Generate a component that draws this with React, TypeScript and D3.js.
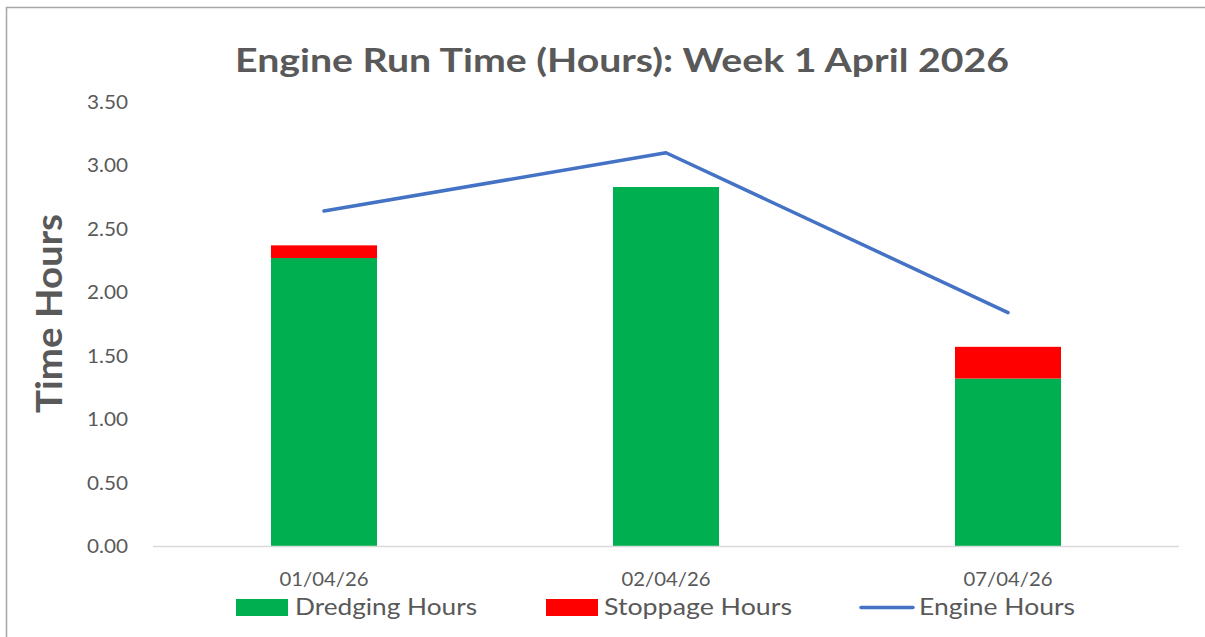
import * as d3 from "d3";
import React from "react";

const dates = ["01/04/26", "02/04/26", "07/04/26"];
const dredgingHours = [2.27, 2.83, 1.32];
const stoppageHours = [0.1, 0, 0.25];
const engineHours = [2.64, 3.1, 1.84];
const yTicks = [0, 0.5, 1, 1.5, 2, 2.5, 3, 3.5];

const W = 1205;
const H = 637;
const FONT = "Lato, 'Open Sans', sans-serif";
const TEXT = "#595959";

export default function App() {
  const margin = { top: 102, right: 26, bottom: 91, left: 153 };

  const x = d3
    .scaleBand()
    .domain(dates)
    .range([margin.left, W - margin.right])
    .paddingInner(0.69)
    .paddingOuter(0.345);

  const y = d3
    .scaleLinear()
    .domain([0, 3.5])
    .range([H - margin.bottom, margin.top]);

  const center = (d) => x(d) + x.bandwidth() / 2;

  const line = d3
    .line()
    .x((d, i) => center(dates[i]))
    .y((d) => y(d));

  const stacked = d3
    .stack()
    .keys(["dredging", "stoppage"])(
      dates.map((d, i) => ({ date: d, dredging: dredgingHours[i], stoppage: stoppageHours[i] }))
    );
  const colors = { dredging: "#00b050", stoppage: "#ff0000" };

  // the source text is a wide Calibri, so stretch Lato to the measured widths
  const fit = { lengthAdjust: "spacingAndGlyphs" };

  return (
    <div style={{ position: "absolute", left: 0, top: 0 }}>
      <svg width={W} height={H} style={{ display: "block", background: "#fff" }}>
        <rect x={6.5} y={7.5} width={W + 10} height={H + 10} fill="#fff" stroke="#a6a6a6" strokeWidth={1.5} />

        <text
          x={622}
          y={72}
          textAnchor="middle"
          fontFamily={FONT}
          fontWeight="bold"
          fontSize={33}
          fill={TEXT}
          textLength={774}
          {...fit}
        >
          Engine Run Time (Hours): Week 1 April 2026
        </text>

        <text
          transform={`translate(62,313.5) rotate(-90)`}
          textAnchor="middle"
          fontFamily={FONT}
          fontWeight="bold"
          fontSize={36}
          fill={TEXT}
          textLength={199}
          {...fit}
        >
          Time Hours
        </text>

        {yTicks.map((t) => (
          <text
            key={t}
            x={128}
            y={y(t) + 7}
            textAnchor="end"
            fontFamily={FONT}
            fontSize={19.5}
            fill={TEXT}
            textLength={41}
            {...fit}
          >
            {t.toFixed(2)}
          </text>
        ))}

        {stacked.map((s) =>
          s.map((d, i) =>
            d[1] - d[0] > 0 ? (
              <rect
                key={s.key + i}
                x={x(dates[i])}
                y={y(d[1])}
                width={x.bandwidth()}
                height={y(d[0]) - y(d[1])}
                fill={colors[s.key]}
              />
            ) : null
          )
        )}

        <line
          x1={margin.left}
          x2={W - margin.right}
          y1={y(0) + 0.5}
          y2={y(0) + 0.5}
          stroke="#d9d9d9"
          strokeWidth={1.5}
        />

        {dates.map((d) => (
          <text
            key={d}
            x={center(d)}
            y={586}
            textAnchor="middle"
            fontFamily={FONT}
            fontSize={19.5}
            fill={TEXT}
            textLength={89}
            {...fit}
          >
            {d}
          </text>
        ))}

        <path
          d={line(engineHours)}
          fill="none"
          stroke="#4472c4"
          strokeWidth={3.5}
          strokeLinecap="round"
          strokeLinejoin="round"
        />

        <g fontFamily={FONT} fontSize={24} fill={TEXT}>
          <rect x={236} y={599} width={52} height={17} fill="#00b050" />
          <text x={295} y={615} textLength={182} {...fit}>Dredging Hours</text>
          <rect x={546} y={599} width={52} height={17} fill="#ff0000" />
          <text x={604} y={615} textLength={188} {...fit}>Stoppage Hours</text>
          <line x1={861} x2={913} y1={607.5} y2={607.5} stroke="#4472c4" strokeWidth={3.5} strokeLinecap="round" />
          <text x={919} y={615} textLength={156} {...fit}>Engine Hours</text>
        </g>
      </svg>
    </div>
  );
}
